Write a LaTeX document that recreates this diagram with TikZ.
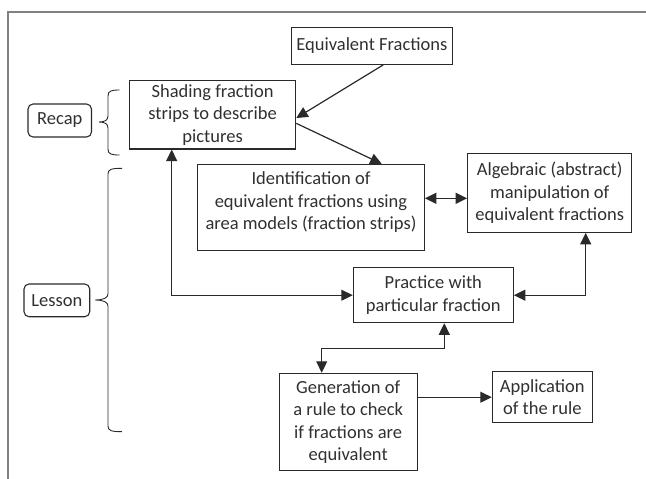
\documentclass[tikz,border=0pt]{standalone}
\usepackage{fontspec}
\setmainfont{Carlito}
\usetikzlibrary{arrows.meta}
\definecolor{linec}{HTML}{2A2A2A}
\definecolor{textc}{HTML}{303030}
\definecolor{framec}{HTML}{808080}
\begin{document}
\begin{tikzpicture}[x=1pt,y=-1pt,
  box/.style={draw=linec, line width=1.1pt, text=textc, font=\fontsize{18.5}{22.6}\selectfont, align=center, inner sep=0pt},
  rbox/.style={box, rounded corners=5pt},
  arr/.style={-{Triangle[length=11.5pt,width=11pt]}, line width=1.2pt, draw=linec},
  darr/.style={{Triangle[length=11.5pt,width=11pt]}-{Triangle[length=11.5pt,width=11pt]}, line width=1.2pt, draw=linec},
  bracec/.style={draw=linec, line width=0.9pt}]
\useasboundingbox (0,0) rectangle (646,479);
% outer frame
\draw[framec, line width=1.2pt] (8,485) -- (8,12) -- (652,12);

% nodes
\node[box, minimum width=160.3pt, minimum height=37pt] (EF) at (371.9,45.8) {Equivalent Fractions};
\node[box, minimum width=166.2pt, minimum height=68.3pt] (SH) at (212.6,114.85) {Shading fraction\\strips to describe\\pictures};
\node[box, minimum width=226.6pt, minimum height=85.7pt,
  label={[box, draw=none, yshift=5pt]center:{Identification of\\equivalent fractions using\\area models (fraction strips)}}] (ID) at (311,207.2) {};
\node[box, minimum width=164pt, minimum height=79pt] (AL) at (549.7,192.8) {Algebraic (abstract)\\manipulation of\\equivalent fractions};
\node[box, minimum width=160pt, minimum height=55pt] (PR) at (433.3,295.2) {Practice with\\particular fraction};
\node[box, minimum width=138.3pt, minimum height=97.4pt] (GE) at (348.2,422) {Generation of\\a rule to check\\if fractions are\\equivalent};
\node[box, minimum width=100pt, minimum height=51pt] (AP) at (542.3,397.2) {Application\\of the rule};
\node[rbox, minimum width=63.5pt, minimum height=33pt] (RE) at (59.75,120.5) {Recap};
\node[rbox, minimum width=65.7pt, minimum height=32.7pt] (LE) at (56.85,300.35) {Lesson};

% braces
\draw[bracec] (119.5,90) .. controls (111,90) and (108,91) .. (108,96) -- (108,116)
  .. controls (108,120) and (105,122) .. (99,122)
  .. controls (105,122) and (108,124) .. (108,128) -- (108,149)
  .. controls (108,154) and (111,155) .. (119.5,155);
\draw[bracec] (122,168.3) .. controls (111,168.3) and (108,169.5) .. (108,174) -- (108,294)
  .. controls (108,298) and (103,300) .. (95,300)
  .. controls (103,300) and (108,302) .. (108,306) -- (108,426)
  .. controls (108,430.5) and (111,431.7) .. (122,431.7);

% connectors
\draw[arr] ([xshift=11.4pt]EF.south) -- ([yshift=-3.2pt]SH.east);
\draw[arr] ([yshift=-8.5pt]SH.east) -- ([xshift=70.7pt]ID.north);
\draw[darr] ([yshift=-5.5pt]AL.west) coordinate (t1) -- (t1 -| ID.east);
\draw[darr] ([xshift=-40.9pt]SH.south) |- (PR.west);
\draw[darr] (PR.east) -| ([xshift=36pt]AL.south);
\draw[darr] ([xshift=11pt]PR.south) -- ++(0,25.6) -| ([xshift=-26.5pt]GE.north);
\draw[arr] (GE.east |- AP.west) -- (AP.west);
\end{tikzpicture}
\end{document}
